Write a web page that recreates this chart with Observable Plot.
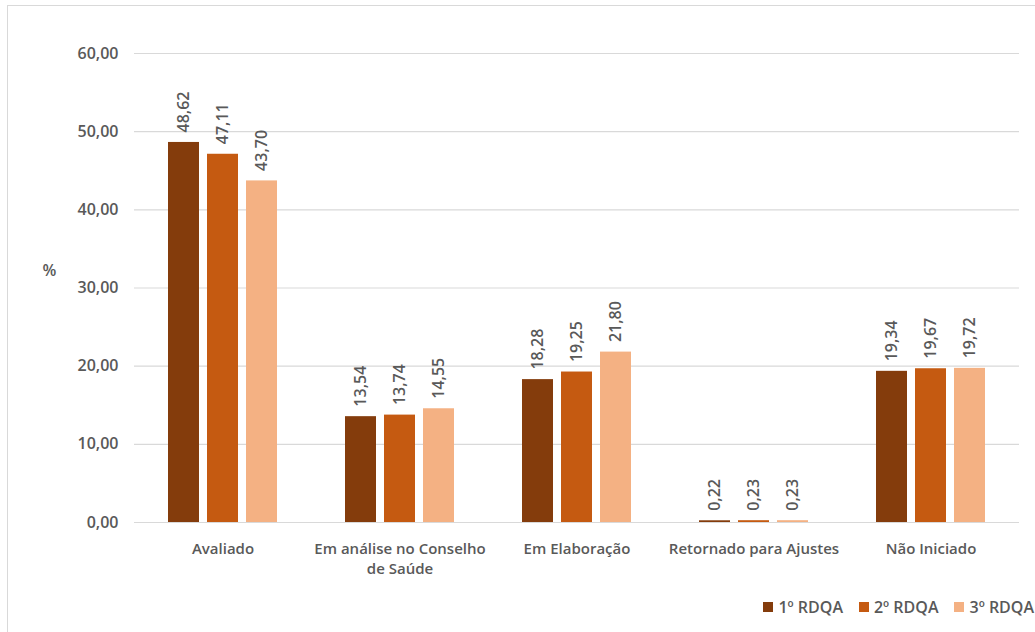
<!DOCTYPE html>
<html>
<head>
<meta charset="utf-8">
<script src="https://cdn.jsdelivr.net/npm/d3@7"></script>
<script src="https://cdn.jsdelivr.net/npm/@observablehq/plot@0.6"></script>
<style>
  html, body { margin: 0; padding: 0; background: #fff; }
  body { width: 1035px; height: 632px; overflow: hidden; position: relative; font-family: "Open Sans", sans-serif; }
  #frame { position: absolute; left: 7px; top: 5px; width: 1040px; height: 640px; border: 1px solid #d9d9d9; box-sizing: border-box; pointer-events: none; }
  #chart { position: absolute; left: 0; top: 0; }
  #legend { position: absolute; left: 0; top: 597px; width: 1034px; height: 20px; display: flex; justify-content: flex-end; align-items: center; font-size: 16px; font-weight: 600; color: #595959; }
  .item { display: flex; align-items: center; margin-left: 16px; }
  .sw { width: 10px; height: 10px; margin-right: 5px; }
</style>
</head>
<body>
<div id="chart"></div>
<div id="legend"></div>
<div id="frame"></div>
<script>
const categories = ["Avaliado", "Em análise no Conselho de Saúde", "Em Elaboração", "Retornado para Ajustes", "Não Iniciado"];
const categoryLabels = ["Avaliado", "Em análise no Conselho\nde Saúde", "Em Elaboração", "Retornado para Ajustes", "Não Iniciado"];
const series = ["1º RDQA", "2º RDQA", "3º RDQA"];
const rdqa1 = [48.62, 13.54, 18.28, 0.22, 19.34];
const rdqa2 = [47.11, 13.74, 19.25, 0.23, 19.67];
const rdqa3 = [43.70, 14.55, 21.80, 0.23, 19.72];
const colors = ["#843C0C", "#C55A11", "#F4B183"];
const yTicks = [0, 10, 20, 30, 40, 50, 60];

const values = [rdqa1, rdqa2, rdqa3];
const data = categories.flatMap((c, i) => series.map((s, j) => ({cat: c, series: s, value: values[j][i]})));
const fmt = v => v.toFixed(2).replace(".", ",");
const labelOf = c => categoryLabels[categories.indexOf(c)];

const chart = Plot.plot({
  width: 1035,
  height: 590,
  marginTop: 53,
  marginBottom: 68,
  marginLeft: 133,
  marginRight: 16,
  style: {fontFamily: "'Open Sans', sans-serif", fontSize: "16px", fontWeight: 600, color: "#595959", background: "transparent"},
  y: {domain: [0, 60]},
  fx: {domain: categories, padding: 0, label: null},
  x: {domain: series, paddingInner: 0.2, paddingOuter: 0.855, axis: null},
  color: {domain: series, range: colors},
  marks: [
    Plot.ruleY(yTicks, {stroke: "#d9d9d9", strokeWidth: 1.2}),
    Plot.axisY(yTicks, {tickSize: 0, tickPadding: 16, tickFormat: fmt, label: null, fontSize: 16}),
    Plot.text([{cat: categories[0], t: "%"}], {fx: "cat", text: "t", frameAnchor: "left", dx: -92, dy: -17, fontSize: 16}),
    Plot.barY(data, {fx: "cat", x: "series", y: "value", fill: "series"}),
    Plot.text(data, {fx: "cat", x: "series", y: "value", text: d => fmt(d.value), rotate: -90, textAnchor: "start", dy: -10, fontSize: 16}),
    Plot.axisFx({anchor: "bottom", tickSize: 0, tickPadding: 17, tickFormat: labelOf, label: null, lineHeight: 1.35, fontSize: 15})
  ]
});
document.getElementById("chart").appendChild(chart);

const legend = document.getElementById("legend");
series.forEach((s, j) => {
  const item = document.createElement("div");
  item.className = "item";
  const sw = document.createElement("div");
  sw.className = "sw";
  sw.style.background = colors[j];
  const t = document.createElement("span");
  t.textContent = s;
  item.appendChild(sw);
  item.appendChild(t);
  legend.appendChild(item);
});
</script>
</body>
</html>
